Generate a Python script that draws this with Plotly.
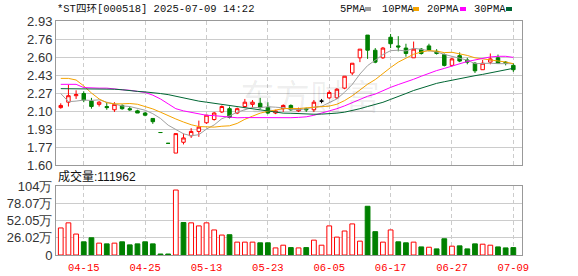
import plotly.graph_objects as go

# ---------------- data ----------------
dates = ["04-10", "04-11", "04-14", "04-15", "04-16", "04-17", "04-18", "04-21", "04-22", "04-23", "04-24", "04-25",
         "04-29", "04-30", "05-06", "05-07", "05-08", "05-09", "05-12", "05-13",
         "05-14", "05-15", "05-16", "05-19", "05-20", "05-21", "05-22", "05-23",
         "05-26", "05-27", "05-28", "05-29", "05-30", "06-03", "06-04", "06-05",
         "06-06", "06-09", "06-10", "06-11", "06-12", "06-13", "06-16", "06-17",
         "06-18", "06-19", "06-20", "06-23", "06-24", "06-25", "06-26", "06-27",
         "06-30", "07-01", "07-02", "07-03", "07-04", "07-07", "07-08", "07-09"]

opens = [2.13, 2.18, 2.24, 2.26, 2.19, 2.16, 2.14, 2.11, 2.15, 2.12,
         2.10, 2.08, 2.03, 1.90, 1.80, 1.71, 1.81, 1.87, 1.91, 1.99,
         2.02, 2.09, 2.12, 2.08, 2.14, 2.16, 2.17, 2.13, 2.08, 2.12,
         2.15, 2.10, 2.12, 2.11, 2.19, 2.22, 2.22, 2.31, 2.45, 2.59,
         2.80, 2.66, 2.59, 2.78, 2.70, 2.68, 2.59, 2.67, 2.70, 2.65,
         2.62, 2.52, 2.61, 2.57, 2.54, 2.48, 2.55, 2.59, 2.55, 2.52]
highs = [2.17, 2.34, 2.29, 2.28, 2.22, 2.19, 2.18, 2.18, 2.16, 2.14,
         2.11, 2.09, 2.03, 1.90, 1.80, 1.89, 1.89, 1.94, 2.01, 2.06,
         2.09, 2.15, 2.14, 2.13, 2.21, 2.20, 2.22, 2.18, 2.11, 2.16,
         2.16, 2.13, 2.13, 2.20, 2.21, 2.29, 2.31, 2.42, 2.54, 2.67,
         2.80, 2.68, 2.69, 2.81, 2.79, 2.72, 2.74, 2.68, 2.72, 2.67,
         2.63, 2.59, 2.64, 2.59, 2.55, 2.57, 2.63, 2.62, 2.56, 2.54]
lows = [2.12, 2.14, 2.21, 2.18, 2.12, 2.14, 2.11, 2.09, 2.11, 2.10,
        2.08, 2.05, 1.98, 1.90, 1.80, 1.71, 1.79, 1.85, 1.86, 1.98,
        2.01, 2.08, 2.03, 2.07, 2.13, 2.13, 2.12, 2.07, 2.07, 2.09,
        2.10, 2.09, 2.09, 2.09, 2.17, 2.21, 2.21, 2.30, 2.43, 2.55,
        2.58, 2.54, 2.58, 2.68, 2.65, 2.60, 2.59, 2.62, 2.65, 2.62,
        2.51, 2.51, 2.55, 2.53, 2.45, 2.48, 2.53, 2.54, 2.52, 2.46]
closes = [2.15, 2.24, 2.25, 2.20, 2.14, 2.18, 2.13, 2.16, 2.12, 2.11,
          2.08, 2.06, 2.00, 1.90, 1.80, 1.89, 1.85, 1.91, 1.95, 2.06,
          2.08, 2.14, 2.04, 2.12, 2.18, 2.18, 2.13, 2.08, 2.10, 2.15,
          2.11, 2.12, 2.11, 2.18, 2.19, 2.27, 2.30, 2.42, 2.54, 2.67,
          2.66, 2.55, 2.68, 2.72, 2.69, 2.63, 2.67, 2.63, 2.66, 2.63,
          2.52, 2.58, 2.56, 2.55, 2.47, 2.54, 2.58, 2.54, 2.54, 2.48]
neutral_days = ["06-04"]   # drawn as a black cross

ma5 = [2.26, 2.185, 2.19, 2.20, 2.196, 2.202, 2.18, 2.162, 2.146, 2.14,
       2.12, 2.106, 2.074, 2.03, 1.968, 1.93, 1.888, 1.87, 1.88, 1.932,
       1.97, 2.028, 2.054, 2.088, 2.112, 2.132, 2.13, 2.138, 2.134, 2.128,
       2.114, 2.112, 2.118, 2.134, 2.142, 2.174, 2.21, 2.272, 2.344, 2.44,
       2.518, 2.568, 2.62, 2.656, 2.66, 2.654, 2.678, 2.668, 2.656, 2.644,
       2.622, 2.604, 2.59, 2.568, 2.536, 2.54, 2.54, 2.536, 2.534, 2.536]
ma10 = [2.40, 2.40, 2.385, 2.33, 2.265, 2.21, 2.175, 2.165, 2.165, 2.168,
        2.161, 2.143, 2.118, 2.088, 2.054, 2.025, 1.997, 1.972, 1.955, 1.95,
        1.95, 1.958, 1.962, 1.984, 2.022, 2.051, 2.079, 2.096, 2.111, 2.12,
        2.123, 2.121, 2.128, 2.134, 2.135, 2.144, 2.161, 2.195, 2.239, 2.291,
        2.346, 2.389, 2.446, 2.50, 2.55, 2.586, 2.623, 2.644, 2.656, 2.652,
        2.638, 2.641, 2.629, 2.612, 2.59, 2.581, 2.572, 2.563, 2.551, 2.536]
ma20 = [2.345, 2.345, 2.345, 2.315, 2.31, 2.31, 2.31, 2.30, 2.295, 2.29,
        2.28, 2.27, 2.245, 2.21, 2.165, 2.12, 2.10, 2.085, 2.07, 2.059,
        2.056, 2.051, 2.04, 2.036, 2.038, 2.038, 2.038, 2.034, 2.033, 2.035,
        2.037, 2.04, 2.045, 2.059, 2.079, 2.098, 2.12, 2.146, 2.175, 2.206,
        2.235, 2.255, 2.287, 2.317, 2.343, 2.365, 2.392, 2.42, 2.448, 2.472,
        2.492, 2.515, 2.538, 2.556, 2.57, 2.584, 2.598, 2.604, 2.604, 2.594]
ma30 = [2.305, 2.305, 2.305, 2.30, 2.30, 2.30, 2.30, 2.30, 2.295, 2.285,
        2.28, 2.275, 2.27, 2.26, 2.25, 2.235, 2.22, 2.20, 2.19, 2.18,
        2.17, 2.16, 2.15, 2.14, 2.13, 2.12, 2.11, 2.10, 2.09, 2.079,
        2.078, 2.074, 2.069, 2.069, 2.07, 2.073, 2.079, 2.088, 2.102, 2.12,
        2.14, 2.156, 2.179, 2.206, 2.236, 2.26, 2.288, 2.312, 2.335, 2.354,
        2.369, 2.384, 2.401, 2.415, 2.425, 2.437, 2.452, 2.467, 2.482, 2.493]

# volume in 万 (10k shares)
volume = [40.8, 48.5, 31.6, 19.9, 26.0, 17.9, 16.8, 17.9, 19.9, 15.3,
          16.8, 19.9, 16.8, 1.5, 1.5, 98.0, 49.0, 48.5, 43.9, 48.5,
          37.8, 30.1, 30.6, 19.4, 19.4, 19.4, 18.4, 18.4, 10.7, 14.8,
          11.2, 10.7, 11.2, 22.4, 14.8, 43.9, 27.0, 36.2, 46.9, 20.9,
          73.5, 35.2, 19.4, 37.8, 19.9, 18.4, 19.4, 12.2, 11.7, 9.2,
          24.5, 13.3, 13.8, 9.2, 16.8, 16.3, 14.8, 12.2, 10.7, 11.2]
vol_up = [1, 1, 1, 0, 0, 1, 0, 1, 0, 0,
          0, 0, 0, 0, 0, 1, 0, 1, 1, 1,
          1, 1, 0, 1, 1, 1, 0, 0, 1, 1,
          0, 1, 0, 1, 1, 1, 1, 1, 1, 1,
          0, 0, 1, 1, 0, 0, 1, 0, 1, 0,
          0, 1, 0, 0, 0, 1, 1, 0, 0, 0]

tick_dates = ["04-15", "04-25", "05-13", "05-23", "06-05", "06-17", "06-27", "07-09"]
price_tickvals = [1.60, 1.76625, 1.9325, 2.09875, 2.265, 2.43125, 2.5975, 2.76375, 2.93]
price_ticktext = ["1.60", "1.77", "1.93", "2.10", "2.27", "2.43", "2.60", "2.76", "2.93"]
vol_tickvals = [0, 26.0225, 52.045, 78.0675, 104.09]
vol_ticktext = ["0", "26.02万", "52.05万", "78.07万", "104万"]

title_text = "*ST四环[000518] 2025-07-09 14:22"
vol_label = "成交量:111962"
ma_names = ["5PMA", "10PMA", "20PMA", "30PMA"]

# ---------------- styling ----------------
RED = "#FF0000"
GREEN = "#008000"
MA_COLORS = ["#A0A0A0", "#F5A300", "#FF00FF", "#006633"]
W, H = 578, 276
ML, MR, MT, MB = 56, 56, 21, 21
PW, PH = W - ML - MR, H - MT - MB


def px(x):
    return (x - ML) / PW


def py(y):
    return (H - MB - y) / PH


xs = list(range(len(dates)))
tickvals = [dates.index(d) for d in tick_dates]
neutral_idx = [dates.index(d) for d in neutral_days]
main_idx = [i for i in xs if i not in neutral_idx]

fig = go.Figure()

# moving averages
for name, vals, col in zip(ma_names, [ma5, ma10, ma20, ma30], MA_COLORS):
    fig.add_trace(go.Scatter(x=xs, y=vals, mode="lines", line=dict(color=col, width=1),
                             name=name, hoverinfo="skip", xaxis="x", yaxis="y"))

# candles
fig.add_trace(go.Candlestick(
    x=main_idx,
    open=[opens[i] for i in main_idx], high=[highs[i] for i in main_idx],
    low=[lows[i] for i in main_idx], close=[closes[i] for i in main_idx],
    increasing=dict(line=dict(color=RED, width=1), fillcolor="white"),
    decreasing=dict(line=dict(color=GREEN, width=1), fillcolor=GREEN),
    whiskerwidth=0, hoverinfo="skip", xaxis="x", yaxis="y"))
fig.add_trace(go.Candlestick(
    x=neutral_idx,
    open=[opens[i] for i in neutral_idx], high=[highs[i] for i in neutral_idx],
    low=[lows[i] for i in neutral_idx], close=[closes[i] for i in neutral_idx],
    increasing=dict(line=dict(color="black", width=1), fillcolor="black"),
    decreasing=dict(line=dict(color="black", width=1), fillcolor="black"),
    whiskerwidth=0, hoverinfo="skip", xaxis="x", yaxis="y"))

# volume
up_i = [i for i in xs if vol_up[i]]
dn_i = [i for i in xs if not vol_up[i]]
fig.add_trace(go.Bar(x=up_i, y=[volume[i] for i in up_i],
                     marker=dict(color="white", line=dict(color=RED, width=1)),
                     hoverinfo="skip", xaxis="x2", yaxis="y2"))
fig.add_trace(go.Bar(x=dn_i, y=[volume[i] for i in dn_i],
                     marker=dict(color=GREEN, line=dict(color=GREEN, width=1)),
                     hoverinfo="skip", xaxis="x2", yaxis="y2"))

xrange = [-0.62, 60.13]
axis_common = dict(showline=True, mirror=True, linecolor="#999999", linewidth=1,
                   zeroline=False, automargin=False)
LBL_FONT = dict(family="Liberation Sans, Arial, sans-serif", size=13, color="#333333")

fig.update_layout(
    width=W, height=H,
    margin=dict(l=ML, r=MR, t=MT, b=MB, pad=0, autoexpand=False),
    paper_bgcolor="white", plot_bgcolor="white",
    showlegend=False,
    bargap=0.38, boxgap=0.35,
    xaxis=dict(domain=[0, 1], range=xrange, anchor="y", tickvals=tickvals,
               showticklabels=False, showgrid=True, gridcolor="#cccccc", ticks="",
               griddash="4px,3px", rangeslider=dict(visible=False), **axis_common),
    yaxis=dict(domain=[py(165), 1], range=[1.60, 2.93], tickvals=price_tickvals,
               ticktext=price_ticktext, showgrid=True, gridcolor="#cccccc", ticks="",
               tickfont=LBL_FONT, **axis_common),
    xaxis2=dict(domain=[0, 1], range=xrange, anchor="y2", tickvals=tickvals,
                ticktext=tick_dates, showgrid=True, gridcolor="#cccccc",
                griddash="4px,3px", ticks="outside", ticklen=2,
                tickcolor="rgba(0,0,0,0)",
                tickfont=dict(family="Liberation Mono, monospace", size=10.5, color=RED),
                **axis_common),
    yaxis2=dict(domain=[0, py(186)], range=[0, 104.09], tickvals=vol_tickvals,
                ticktext=vol_ticktext, showgrid=True, gridcolor="#cccccc", ticks="",
                tickfont=LBL_FONT, anchor="x2", **axis_common),
)

MONO = "Liberation Mono, Noto Sans CJK SC, monospace"
annotations = [
    dict(text=title_text, x=px(55), y=py(9), xref="paper", yref="paper",
         xanchor="left", yanchor="middle", showarrow=False,
         font=dict(family=MONO, size=10.5, color="#111111")),
    dict(text=vol_label, x=px(56), y=py(176), xref="paper", yref="paper",
         xanchor="left", yanchor="middle", showarrow=False,
         font=dict(family="Liberation Sans, Noto Sans CJK SC, sans-serif", size=12, color="#111111")),
    dict(text="东方财富", x=px(310), y=py(94), xref="paper", yref="paper",
         xanchor="center", yanchor="middle", showarrow=False,
         font=dict(family="Noto Sans CJK SC", size=35, color="rgba(0,0,0,0.07)")),
]
legend_x = [338, 380, 425, 472]
marker_x = [365, 413, 460, 506]
shapes = []
for name, lx, mx, col in zip(ma_names, legend_x, marker_x, MA_COLORS):
    annotations.append(dict(text=name, x=px(lx), y=py(9), xref="paper", yref="paper",
                            xanchor="left", yanchor="middle", showarrow=False,
                            font=dict(family=MONO, size=10.5, color="#111111")))
    shapes.append(dict(type="rect", xref="paper", yref="paper",
                       x0=px(mx), x1=px(mx + 6), y0=py(11), y1=py(7),
                       fillcolor=col, line=dict(width=0)))
fig.update_layout(annotations=annotations, shapes=shapes)

fig.write_html("out.html")
